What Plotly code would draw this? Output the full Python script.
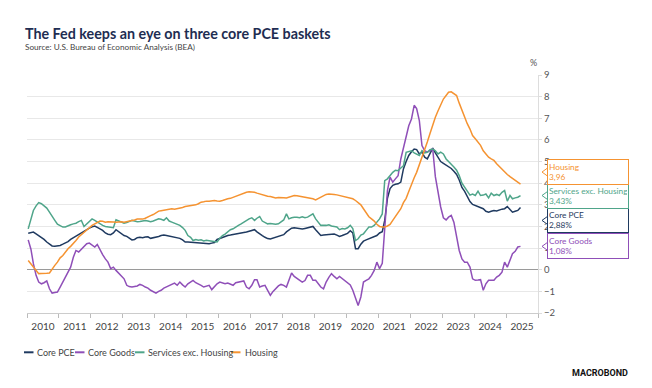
import pandas as pd
import plotly.graph_objects as go

# ---------------- data (monthly, y/y %, Jan 2010 - Jun 2025) ----------------
start_month = "2010-01-01"
n_months = 186

core_pce = [
    1.69, 1.72, 1.74, 1.66, 1.58, 1.52, 1.40, 1.28, 1.20, 1.10, 1.08, 1.10,
    1.12, 1.18, 1.22, 1.30, 1.40, 1.48, 1.55, 1.62, 1.72, 1.80, 1.85, 1.92,
    1.98, 2.02, 1.96, 1.90, 1.82, 1.70, 1.64, 1.62, 1.70, 1.85, 1.75, 1.68,
    1.58, 1.54, 1.45, 1.38, 1.40, 1.48, 1.50, 1.48, 1.51, 1.52, 1.45, 1.47,
    1.50, 1.54, 1.58, 1.60, 1.58, 1.55, 1.52, 1.50, 1.48, 1.45, 1.38, 1.28,
    1.28, 1.27, 1.26, 1.25, 1.24, 1.22, 1.20, 1.21, 1.20, 1.23, 1.26, 1.40,
    1.45, 1.52, 1.55, 1.58, 1.60, 1.62, 1.64, 1.66, 1.69, 1.72, 1.74, 1.78,
    1.82, 1.85, 1.75, 1.65, 1.58, 1.50, 1.44, 1.42, 1.46, 1.51, 1.55, 1.58,
    1.62, 1.75, 1.85, 1.92, 1.94, 1.92, 1.89, 1.88, 1.91, 1.94, 1.96, 2.00,
    1.85, 1.72, 1.58, 1.60, 1.62, 1.64, 1.66, 1.65, 1.60, 1.54, 1.58, 1.63,
    1.68, 1.80, 1.70, 0.97, 0.97, 1.18, 1.32, 1.38, 1.43, 1.48, 1.55, 1.58,
    1.70, 1.76, 2.28, 3.30, 3.75, 3.90, 3.95, 3.97, 4.05, 4.66, 5.00, 5.28,
    5.45, 5.58, 5.55, 5.35, 5.43, 5.20, 5.12, 5.35, 5.62, 5.40, 5.20, 5.00,
    4.92, 4.85, 4.75, 4.68, 4.55, 4.40, 4.15, 3.80, 3.62, 3.40, 3.15, 3.02,
    2.97, 2.92, 2.88, 2.82, 2.70, 2.66, 2.70, 2.74, 2.72, 2.77, 2.80, 2.82,
    2.92, 2.78, 2.66, 2.70, 2.74, 2.88,
]

core_goods = [
    1.38, 0.95, 0.28, -0.26, -0.57, -0.65, -0.60, -0.52, -0.88, -1.08, -1.05, -1.03,
    -0.80, -0.57, -0.40, -0.10, 0.12, 0.58, 0.89, 0.82, 0.95, 1.05, 1.20, 1.23,
    1.12, 1.05, 1.17, 0.89, 0.70, 0.50, 0.35, 0.05, 0.12, -0.03, -0.15, -0.26,
    -0.42, -0.72, -0.78, -0.80, -0.77, -0.75, -0.68, -0.72, -0.80, -0.85, -0.95, -1.00,
    -1.08, -1.00, -0.95, -0.85, -0.80, -0.72, -0.68, -0.62, -0.72, -0.57, -0.70, -0.80,
    -0.65, -0.55, -0.49, -0.60, -0.65, -0.72, -0.80, -0.76, -0.72, -0.92, -0.77, -0.65,
    -0.57, -0.62, -0.65, -0.62, -0.68, -0.72, -0.60, -0.57, -0.55, -0.52, -0.80, -0.88,
    -0.72, -0.46, -0.46, -0.80, -0.75, -0.72, -0.95, -1.18, -1.00, -0.88, -0.75, -0.68,
    -0.72, -0.80, -0.49, -0.15, -0.31, -0.40, -0.49, -0.57, -0.50, -0.26, -0.26, -0.49,
    -0.49, -0.65, -0.80, -0.88, -0.57, -0.35, -0.18, -0.31, -0.42, -0.31, -0.40, -0.49,
    -0.60, -0.70, -0.95, -1.34, -1.65, -1.26, -0.57, -0.49, -0.42, -0.26, -0.03, 0.35,
    0.05, 0.30, 1.82, 3.66, 4.28, 4.05, 4.20, 4.35, 5.12, 5.66, 6.20, 6.65,
    6.97, 7.60, 7.45, 6.89, 5.74, 5.50, 5.43, 5.50, 5.58, 4.30, 3.50, 2.90,
    2.40, 2.30, 2.43, 2.51, 2.20, 1.58, 0.89, 0.50, 0.35, 0.35, 0.12, -0.42,
    -0.49, -0.48, -0.46, -0.95, -0.65, -0.49, -0.50, -0.49, -0.34, -0.26, -0.11, 0.35,
    0.12, 0.43, 0.74, 0.85, 1.05, 1.08,
]

services_ex_housing = [
    1.89, 2.30, 2.74, 2.95, 3.10, 3.05, 2.97, 2.85, 2.66, 2.45, 2.28, 2.10,
    2.05, 1.97, 1.98, 2.05, 2.08, 2.12, 2.15, 2.22, 2.28, 2.00, 2.12, 2.20,
    2.35, 2.28, 2.20, 2.12, 2.05, 2.00, 1.97, 1.95, 1.94, 2.31, 2.25, 2.20,
    2.15, 2.18, 2.22, 2.28, 2.25, 2.22, 2.23, 2.26, 2.28, 2.25, 2.22, 2.25,
    2.30, 2.35, 2.33, 2.28, 2.40, 2.25, 2.20, 2.15, 2.08, 2.05, 1.95, 1.82,
    1.58, 1.50, 1.35, 1.40, 1.36, 1.38, 1.33, 1.36, 1.34, 1.32, 1.30, 1.28,
    1.45, 1.58, 1.65, 1.75, 1.85, 1.89, 1.95, 2.05, 2.12, 2.20, 2.31, 2.35,
    2.40, 2.28, 2.38, 2.46, 2.25, 2.20, 2.12, 2.14, 2.12, 2.10, 2.12, 2.20,
    2.30, 2.58, 2.35, 2.40, 2.43, 2.42, 2.40, 2.45, 2.40, 2.43, 2.50, 2.58,
    2.35, 2.20, 2.05, 2.06, 2.05, 2.08, 2.02, 2.00, 1.98, 1.85, 1.90, 1.88,
    1.94, 2.05, 1.90, 1.35, 1.43, 1.60, 1.66, 1.82, 1.97, 1.97, 2.05, 2.20,
    2.35, 2.58, 4.12, 4.20, 4.35, 4.50, 4.60, 4.58, 4.70, 4.80, 5.43, 5.45,
    5.50, 5.40, 5.35, 5.28, 5.50, 5.40, 5.43, 5.55, 5.58, 5.50, 5.35, 5.43,
    5.35, 5.12, 5.00, 4.89, 4.75, 4.60, 4.35, 4.00, 3.80, 3.66, 3.45, 3.50,
    3.43, 3.63, 3.43, 3.45, 3.50, 3.32, 3.54, 3.43, 3.48, 3.43, 3.58, 3.66,
    3.17, 3.43, 3.28, 3.32, 3.35, 3.43,
]

housing = [
    0.43, 0.28, 0.12, -0.02, -0.18, -0.17, -0.15, -0.16, -0.15, 0.05, 0.20, 0.35,
    0.55, 0.66, 0.82, 0.97, 1.08, 1.20, 1.35, 1.51, 1.62, 1.74, 1.85, 1.94,
    2.05, 2.12, 2.18, 2.25, 2.24, 2.20, 2.22, 2.20, 2.21, 2.20, 2.22, 2.22,
    2.20, 2.22, 2.25, 2.28, 2.30, 2.34, 2.33, 2.34, 2.38, 2.45, 2.50, 2.55,
    2.62, 2.71, 2.73, 2.75, 2.77, 2.80, 2.82, 2.80, 2.82, 2.85, 2.88, 2.92,
    2.94, 2.97, 2.97, 3.00, 3.05, 3.12, 3.14, 3.17, 3.16, 3.18, 3.20, 3.18,
    3.17, 3.20, 3.25, 3.28, 3.30, 3.35, 3.38, 3.42, 3.48, 3.52, 3.58, 3.60,
    3.60, 3.58, 3.54, 3.50, 3.48, 3.45, 3.40, 3.38, 3.35, 3.32, 3.34, 3.35,
    3.33, 3.32, 3.35, 3.40, 3.43, 3.42, 3.40, 3.38, 3.36, 3.32, 3.30, 3.28,
    3.23, 3.30, 3.38, 3.43, 3.48, 3.50, 3.50, 3.48, 3.46, 3.43, 3.40, 3.38,
    3.35, 3.32, 3.28, 3.20, 3.10, 3.00, 2.82, 2.62, 2.45, 2.35, 2.25, 2.10,
    2.00, 1.98, 1.97, 2.02, 2.09, 2.28, 2.45, 2.62, 2.82, 3.10, 3.30, 3.62,
    3.97, 4.25, 4.50, 4.85, 5.15, 5.50, 5.90, 6.30, 6.74, 7.05, 7.35, 7.60,
    7.89, 8.05, 8.20, 8.22, 8.15, 8.05, 7.70, 7.35, 7.05, 6.75, 6.50, 6.20,
    6.05, 5.90, 5.75, 5.50, 5.35, 5.20, 5.12, 5.05, 4.90, 4.77, 4.65, 4.55,
    4.40, 4.30, 4.22, 4.15, 4.06, 3.96,
]

series_names = ["Core PCE", "Core Goods", "Services exc. Housing", "Housing"]
series_colors = ["#1f3a60", "#8f4fb8", "#4fa58a", "#f59331"]
series_values = [core_pce, core_goods, services_ex_housing, housing]
end_labels = ["2,88%", "1,08%", "3,43%", "3,96"]
label_shift_px = [-13, 0, 0, 12]   # vertical offset of end label box (px, up +)

title_text = "The Fed keeps an eye on three core PCE baskets"
subtitle_text = "Source: U.S. Bureau of Economic Analysis (BEA)"

dates = pd.date_range(start_month, periods=n_months, freq="MS") + pd.Timedelta(days=14)

# ---------------- geometry helpers ----------------
W, H = 652, 388
PL, PR, PT, PB = 27, 538, 74.7, 312.7
Y0, Y1 = -2, 9


def paper_x(px):
    return (px - PL) / (PR - PL)


def paper_y(py):
    return (PB - py) / (PB - PT)


def value_py(v):
    return PB - (v - Y0) * (PB - PT) / (Y1 - Y0)


fig = go.Figure()
for name, color, vals in zip(series_names, series_colors, series_values):
    fig.add_trace(go.Scatter(x=dates, y=vals, mode="lines", name=name,
                             line=dict(color=color, width=1.5),
                             showlegend=False, hoverinfo="x+y+name"))

FONT = "Lato"
annotations = []
shapes = []

# title & subtitle
annotations.append(dict(text=f"<b>{title_text}</b>", xref="paper", yref="paper",
                        x=paper_x(23), y=paper_y(33), xanchor="left", yanchor="middle",
                        showarrow=False, font=dict(family=FONT, size=14.3, color="#1e2d52")))
annotations.append(dict(text=subtitle_text, xref="paper", yref="paper",
                        x=paper_x(23), y=paper_y(47), xanchor="left", yanchor="middle",
                        showarrow=False, font=dict(family=FONT, size=8.2, color="#444444")))
# % unit
annotations.append(dict(text="%", xref="paper", yref="paper", x=paper_x(533),
                        y=paper_y(62), xanchor="center", yanchor="middle", showarrow=False,
                        font=dict(family=FONT, size=9, color="#555555")))

# end-value label boxes
for name, color, vals, lab, sh in zip(series_names, series_colors, series_values,
                                      end_labels, label_shift_px):
    cy = value_py(vals[-1]) - sh
    annotations.append(dict(text=f"{name}<br>{lab}", xref="paper", yref="paper",
                            x=paper_x(547), y=paper_y(cy), xanchor="left", yanchor="middle",
                            showarrow=False, align="left", width=78, height=22, borderpad=1,
                            bordercolor=color, borderwidth=1, bgcolor="white",
                            font=dict(family=FONT, size=8.3, color=color)))
    shapes.append(dict(type="path", xref="paper", yref="paper",
                       path=(f"M {paper_x(547.5)} {paper_y(cy - 4)} L {paper_x(542)} {paper_y(cy)} "
                             f"L {paper_x(547.5)} {paper_y(cy + 4)}"),
                       line=dict(color=color, width=1), fillcolor="white", layer="above"))

# legend (custom, short line keys)
legend_pos = [(24, 36), (75, 87), (135, 147), (231, 244)]
for (lx, tx), name, color in zip(legend_pos, series_names, series_colors):
    shapes.append(dict(type="line", xref="paper", yref="paper",
                       x0=paper_x(lx), x1=paper_x(lx + 9.5), y0=paper_y(352), y1=paper_y(352),
                       line=dict(color=color, width=2)))
    annotations.append(dict(text=name, xref="paper", yref="paper", x=paper_x(tx - 1),
                            y=paper_y(352), xanchor="left", yanchor="middle", showarrow=False,
                            font=dict(family=FONT, size=9, color="#444444")))

# logo text
annotations.append(dict(text="<b>MACROBOND</b>", xref="paper", yref="paper", x=paper_x(630),
                        y=paper_y(373), xanchor="right", yanchor="middle", showarrow=False,
                        font=dict(family="Roboto", size=9, color="#111111")))

fig.update_layout(
    width=W, height=H,
    margin=dict(l=PL, r=W - PR, t=PT, b=H - PB, pad=0),
    paper_bgcolor="white", plot_bgcolor="white",
    showlegend=False,
    annotations=annotations, shapes=shapes,
    font=dict(family=FONT, size=9, color="#555555"),
)
fig.update_xaxes(
    type="date", range=["2010-01-01", "2026-01-01"],
    dtick="M12", tick0="2010-01-01", tickformat="%Y", ticklabelmode="period",
    showgrid=False, ticks="outside", ticklen=4, tickcolor="#bbbbbb",
    showline=True, linecolor="#cccccc", linewidth=1,
    tickfont=dict(family=FONT, size=10, color="#444444"),
)
fig.update_yaxes(
    range=[Y0, Y1], dtick=1, side="right",
    showgrid=True, gridcolor="#e8e8e8", gridwidth=1,
    zeroline=True, zerolinecolor="#9a9a9a", zerolinewidth=1,
    showline=True, linecolor="#dddddd", linewidth=1,
    ticks="outside", ticklen=3, tickcolor="#dddddd",
    tickfont=dict(family=FONT, size=9.5, color="#555555"),
)

fig.write_html("out.html", config={"displayModeBar": False},
               post_script="document.body.style.margin='0';")
